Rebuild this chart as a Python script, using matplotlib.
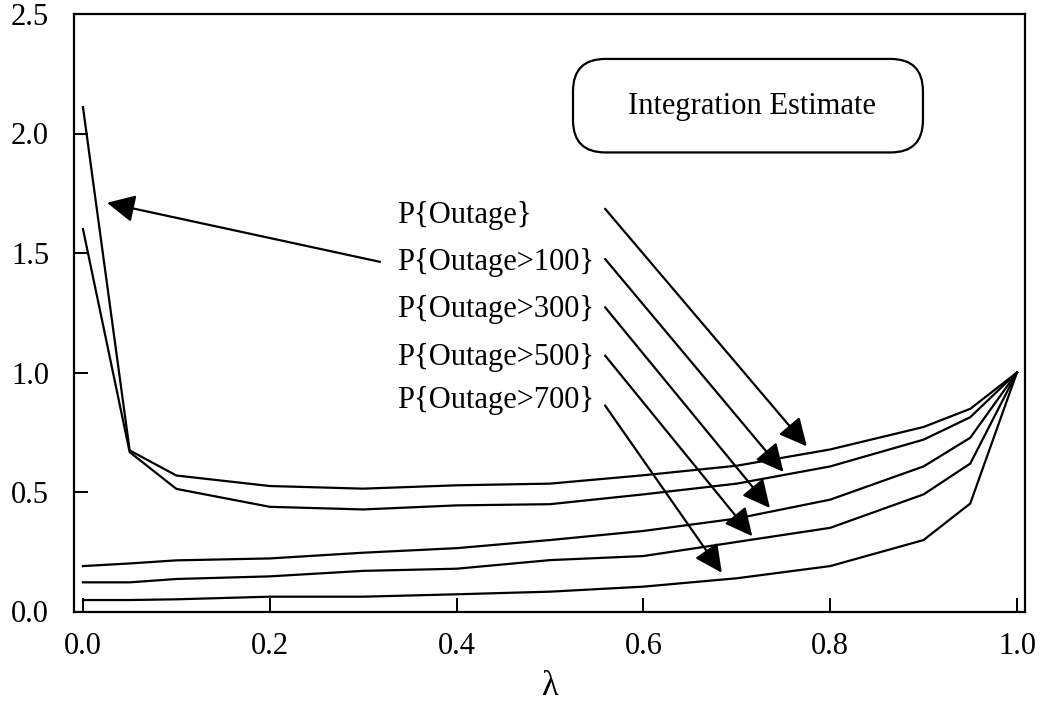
import numpy as np
import matplotlib
matplotlib.use("Agg")
import matplotlib.pyplot as plt
from matplotlib.patches import FancyBboxPatch

plt.rcParams['font.family'] = ['Liberation Serif', 'DejaVu Serif']

# lambda values where the curves have vertices
lam = [0.0, 0.05, 0.1, 0.2, 0.3, 0.4, 0.5, 0.6, 0.7, 0.8, 0.9, 0.95, 1.0]

# curves (top to bottom)
curve_a = [2.11, 0.674, 0.569, 0.525, 0.514, 0.528, 0.535, 0.57, 0.61, 0.678, 0.772, 0.848, 1.0]
curve_b = [1.60, 0.667, 0.513, 0.438, 0.427, 0.444, 0.449, 0.49, 0.535, 0.607, 0.719, 0.813, 1.0]
curve_c = [0.19, 0.201, 0.214, 0.222, 0.246, 0.265, 0.299, 0.337, 0.389, 0.468, 0.607, 0.727, 1.0]
curve_d = [0.122, 0.122, 0.136, 0.147, 0.17, 0.179, 0.215, 0.232, 0.291, 0.35, 0.49, 0.619, 1.0]
curve_e = [0.048, 0.048, 0.051, 0.062, 0.062, 0.072, 0.083, 0.104, 0.139, 0.19, 0.299, 0.452, 1.0]

labels = ["P{Outage}", "P{Outage>100}", "P{Outage>300}", "P{Outage>500}", "P{Outage>700}"]
label_y = [1.656, 1.461, 1.263, 1.064, 0.883]
# arrow tails / heads (data coords)
tail_x = 0.559
tail_y = [1.685, 1.475, 1.273, 1.071, 0.862]
head_x = [0.775, 0.750, 0.7355, 0.7166, 0.684]
head_y = [0.691, 0.584, 0.433, 0.315, 0.162]

xticks = [0.0, 0.2, 0.4, 0.6, 0.8, 1.0]
yticks = [0.0, 0.5, 1.0, 1.5, 2.0, 2.5]

W, H = 1042, 706
fig = plt.figure(figsize=(W / 100, H / 100), dpi=100)
ax = fig.add_axes([74 / W, (H - 611.5) / H, 951 / W, 597.5 / H])

for c in [curve_a, curve_b, curve_c, curve_d, curve_e]:
    ax.plot(lam, c, color='black', lw=1.6, solid_joinstyle='miter')

ax.set_xlim(-0.0096, 1.0086)
ax.set_ylim(0, 2.5)
ax.set_xticks(xticks)
ax.set_yticks(yticks)
ax.set_xticklabels(["%.1f" % v for v in xticks])
ax.set_yticklabels(["%.1f" % v for v in yticks])
ax.tick_params(direction='in', length=10, width=1.4, labelsize=22)
ax.tick_params(axis='y', pad=18)
ax.tick_params(axis='x', pad=15)
for s in ax.spines.values():
    s.set_linewidth(1.6)
ax.set_xlabel("λ", fontsize=25, labelpad=6)

arrow = dict(arrowstyle='-|>,head_length=0.85,head_width=0.42', color='black',
             lw=1.6, shrinkA=0, shrinkB=0, mutation_scale=20)

for lab, ly in zip(labels, label_y):
    ax.text(0.336, ly, lab, fontsize=22, ha='left', va='center')

for ty, hx, hy in zip(tail_y, head_x, head_y):
    ax.annotate("", xy=(hx, hy), xytext=(tail_x, ty), arrowprops=arrow)

# long arrow from P{Outage>100} to the spike at lambda=0
ax.annotate("", xy=(0.0257, 1.710), xytext=(0.318, 1.463), arrowprops=arrow)

# rounded box
box = FancyBboxPatch((0.5247, 0.7683), 0.368, 0.1565, transform=ax.transAxes,
                     boxstyle='round,pad=0,rounding_size=0.034',
                     mutation_aspect=951 / 597.5,
                     facecolor='white', edgecolor='black', lw=1.6)
ax.add_patch(box)
ax.text(0.716, 2.111, "Integration Estimate", fontsize=22, ha='center', va='center')

fig.savefig("out.png", dpi=100)
